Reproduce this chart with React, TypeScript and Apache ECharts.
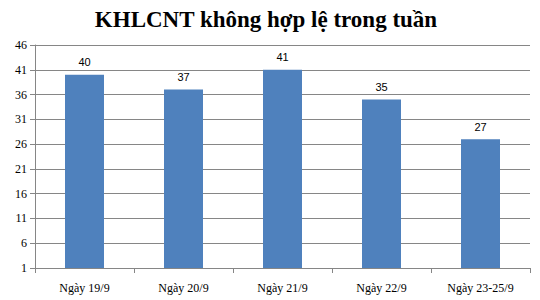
import React, { useEffect, useRef } from "react";
import * as echarts from "echarts";

const titleText = "KHLCNT không hợp lệ trong tuần";
const categories = ["Ngày 19/9", "Ngày 20/9", "Ngày 21/9", "Ngày 22/9", "Ngày 23-25/9"];
const values = [40, 37, 41, 35, 27];
const axisBase = 1; // y axis starts at 1
const axisTop = 46;
const axisStep = 5;

export default function App() {
  const ref = useRef<HTMLDivElement>(null);
  useEffect(() => {
    if (!ref.current) return;
    const chart = echarts.init(ref.current, null, { renderer: "svg" });
    chart.setOption({
      animation: false,
      backgroundColor: "#ffffff",
      title: {
        text: titleText,
        left: 261,
        textAlign: "center",
        top: 3,
        textStyle: {
          fontFamily: "Liberation Serif",
          fontWeight: "bold",
          fontSize: 23,
          color: "#000000",
        },
      },
      grid: { left: 35, right: 10, top: 45, bottom: 32, containLabel: false },
      xAxis: {
        type: "category",
        data: categories,
        axisLine: { show: true, lineStyle: { color: "#868686", width: 1 } },
        axisTick: { show: true, alignWithLabel: false, length: 5, lineStyle: { color: "#868686" } },
        axisLabel: {
          fontFamily: "Liberation Serif",
          fontSize: 12,
          color: "#000000",
          margin: 14,
        },
        splitLine: { show: false },
      },
      yAxis: {
        type: "value",
        min: 0,
        max: axisTop - axisBase,
        interval: axisStep,
        axisLine: { show: true, lineStyle: { color: "#868686", width: 1 } },
        axisTick: { show: true, inside: false, length: 5, lineStyle: { color: "#868686" } },
        axisLabel: {
          fontFamily: "Liberation Serif",
          fontSize: 12,
          color: "#000000",
          margin: 8,
          formatter: (v: number) => String(v + axisBase),
        },
        splitLine: { show: true, lineStyle: { color: "#868686", width: 1 } },
      },
      series: [
        {
          type: "bar",
          data: values.map((v) => v - axisBase),
          barWidth: 39,
          itemStyle: { color: "#4F81BD" },
          label: {
            show: true,
            position: "top",
            distance: 7,
            fontFamily: "Liberation Sans",
            fontSize: 11,
            color: "#000000",
            formatter: (p: any) => String(values[p.dataIndex]),
          },
        },
      ],
    });
    return () => chart.dispose();
  }, []);
  return <div ref={ref} style={{ width: 540, height: 300, position: "absolute", left: 0, top: 0 }} />;
}
